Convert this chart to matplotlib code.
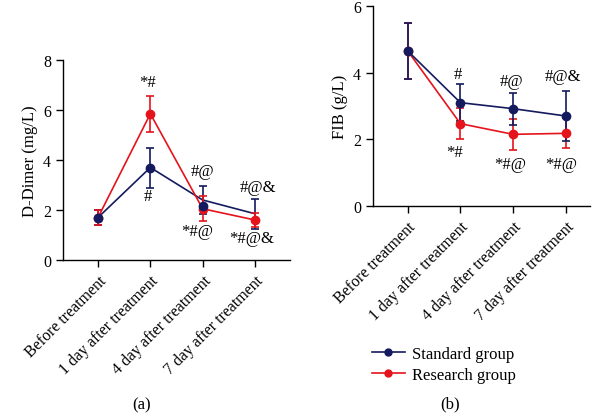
import matplotlib
matplotlib.use("Agg")
import matplotlib.pyplot as plt
from matplotlib.lines import Line2D

plt.rcParams['font.family'] = ['Liberation Serif', 'DejaVu Serif']

nan = float("nan")
categories = ["Before treatment", "1 day after treatment", "4 day after treatment", "7 day after treatment"]

# D-Dimer (mg/L)
std_dimer = [1.7, 3.7, 2.4, 1.85]
std_dimer_marker = [1.7, 3.7, 2.15, nan]
std_dimer_err = [0.3, 0.8, 0.57, 0.6]
res_dimer = [1.7, 5.85, 2.05, 1.6]
res_dimer_err = [0.3, 0.73, 0.5, 0.27]

# FIB (g/L)
std_fib = [4.65, 3.1, 2.92, 2.7]
std_fib_err = [0.85, 0.56, 0.48, 0.76]
res_fib = [4.65, 2.47, 2.15, 2.18]
res_fib_err = [0.85, 0.47, 0.47, 0.45]

# annotations: (label, x index, y value)
ann_a = [("*#", 0.95, 7.12), ("#", 0.95, 2.56), ("#@", 2.0, 3.56), ("*#@", 1.9, 1.16),
         ("#@&", 3.05, 2.92), ("*#@&", 2.93, 0.88)]
ann_b = [("#", 0.95, 3.95), ("#@", 1.97, 3.74), ("#@&", 2.94, 3.89), ("*#", 0.89, 1.62),
         ("*#@", 1.94, 1.26), ("*#@", 2.92, 1.26)]

NAVY = "#141a5e"
RED = "#e5131b"
W, H = 601, 414
fig = plt.figure(figsize=(W / 100, H / 100), dpi=100)

def px_axes(x0, x1, y0, y1):
    return fig.add_axes([x0 / W, 1 - y1 / H, (x1 - x0) / W, (y1 - y0) / H])

ax1 = px_axes(63, 290, 61, 261)
ax2 = px_axes(373, 590, 7, 207)

x = list(range(len(categories)))

def draw(ax, std, std_err, res, res_err, std_marker=None, std_on_top=False):
    zs, zr = (3, 2) if std_on_top else (2, 3)
    ax.errorbar(x, std, yerr=std_err, color=NAVY, lw=1.2, capsize=3, elinewidth=1.2,
                capthick=1.2, zorder=zs)
    ax.errorbar(x, res, yerr=res_err, color=RED, lw=1.2, capsize=3, elinewidth=1.2,
                capthick=1.2, zorder=zr)
    ax.plot(x, res, 'o', color=RED, ms=6, zorder=3.5, lw=0)
    ax.plot(x, std_marker if std_marker is not None else std, 'o', color=NAVY, ms=6,
            zorder=3.6, lw=0)
    for s in ("top", "right"):
        ax.spines[s].set_visible(False)
    for s in ("left", "bottom"):
        ax.spines[s].set_linewidth(1.0)
    ax.set_xticks(x)
    ax.set_xticklabels(categories, rotation=45, ha="right", rotation_mode="anchor", fontsize=11.5)
    ax.tick_params(axis="both", direction="out", length=5, width=1.0, labelsize=11.5)
    ax.tick_params(axis="x", pad=4)

draw(ax1, std_dimer, std_dimer_err, res_dimer, res_dimer_err, std_marker=std_dimer_marker)
ax1.set_xlim(-0.67, 3.67)
ax1.set_ylim(0, 8)
ax1.set_yticks([0, 2, 4, 6, 8])
ax1.set_ylabel("D-Dimer (mg/L)", fontsize=12)
for t, xx, yy in ann_a:
    ax1.text(xx, yy, t, ha="center", va="center", fontsize=12)

draw(ax2, std_fib, std_fib_err, res_fib, res_fib_err, std_on_top=True)
ax2.set_xlim(-0.66, 3.46)
ax2.set_ylim(0, 6)
ax2.set_yticks([0, 2, 4, 6])
ax2.set_ylabel("FIB (g/L)", fontsize=12)
for t, xx, yy in ann_b:
    ax2.text(xx, yy, t, ha="center", va="center", fontsize=12)

handles = [Line2D([0], [0], color=NAVY, marker='o', ms=5, lw=1.2),
           Line2D([0], [0], color=RED, marker='o', ms=5, lw=1.2)]
fig.legend(handles, ["Standard group", "Research group"], loc="upper left",
           bbox_to_anchor=(365 / W, 1 - 340 / H), frameon=False, fontsize=12,
           handlelength=2.0, handletextpad=0.4, labelspacing=0.3, borderaxespad=0)

fig.text(142 / W, 1 - 405 / H, "(a)", ha="center", va="center", fontsize=12)
fig.text(450 / W, 1 - 404 / H, "(b)", ha="center", va="center", fontsize=12)

fig.savefig("out.png", dpi=100)
